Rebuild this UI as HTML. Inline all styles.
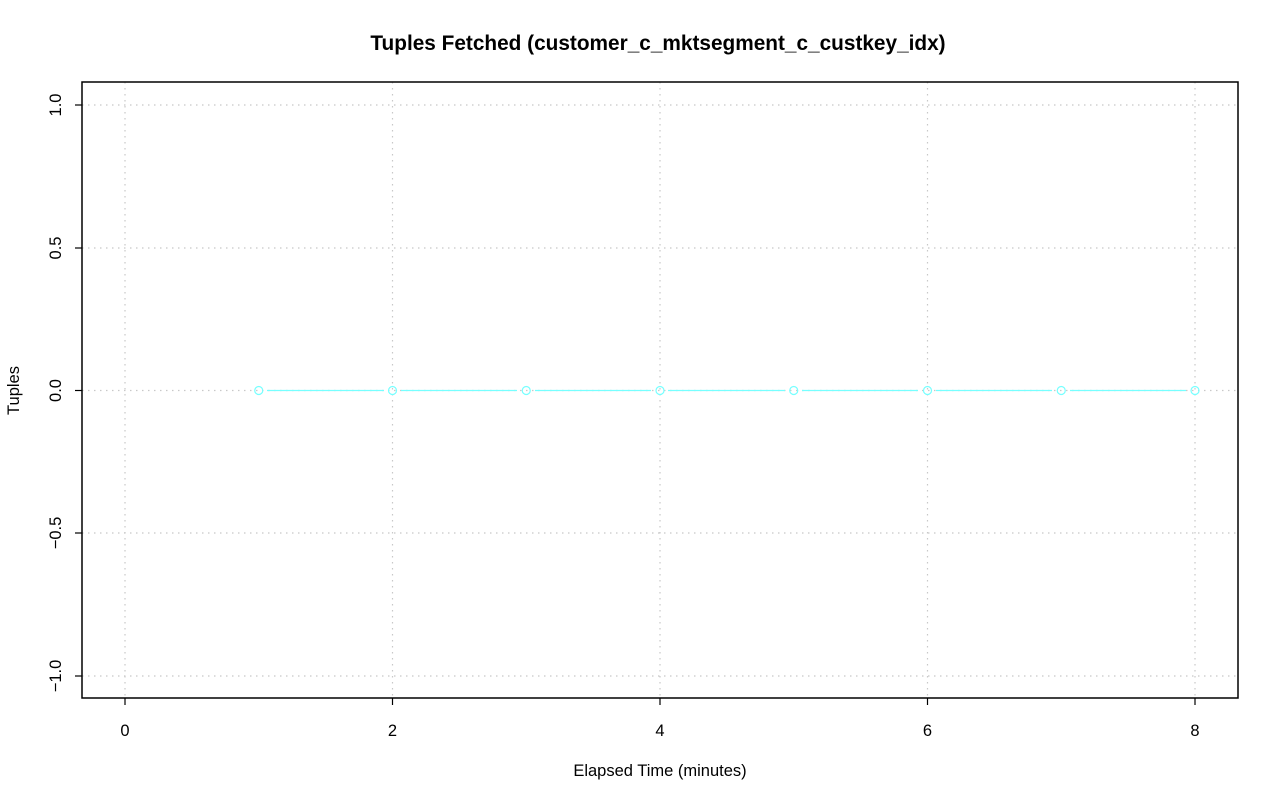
<!DOCTYPE html>
<html><head><style>body{margin:0;background:#fff}svg{display:block}</style></head><body>
<svg width="1280" height="801" xmlns="http://www.w3.org/2000/svg" font-family="Liberation Sans, sans-serif">
<rect width="1280" height="801" fill="#fff"/>
<text x="658" y="50" font-size="20.8" font-weight="bold" text-anchor="middle">Tuples Fetched (customer_c_mktsegment_c_custkey_idx)</text>
<g stroke="#c8c8c8" stroke-width="1.2" stroke-dasharray="1.5,4.5">
<line x1="125" y1="82" x2="125" y2="698"/><line x1="392.5" y1="82" x2="392.5" y2="698"/><line x1="660" y1="82" x2="660" y2="698"/><line x1="927.5" y1="82" x2="927.5" y2="698"/><line x1="1195" y1="82" x2="1195" y2="698"/>
<line x1="82" y1="105" x2="1238" y2="105"/><line x1="82" y1="248" x2="1238" y2="248"/><line x1="82" y1="390.5" x2="1238" y2="390.5"/><line x1="82" y1="533" x2="1238" y2="533"/><line x1="82" y1="676" x2="1238" y2="676"/>
</g>
<g stroke="#7ff" stroke-width="1.2" fill="none">
<path d="M267 390.5H384M401 390.5H517M535 390.5H651M668 390.5H785M802 390.5H918M936 390.5H1052M1070 390.5H1186"/>
<circle cx="258.75" cy="390.5" r="4"/><circle cx="392.5" cy="390.5" r="4"/><circle cx="526.25" cy="390.5" r="4"/><circle cx="660" cy="390.5" r="4"/><circle cx="793.75" cy="390.5" r="4"/><circle cx="927.5" cy="390.5" r="4"/><circle cx="1061.25" cy="390.5" r="4"/><circle cx="1195" cy="390.5" r="4"/>
</g>
<rect x="82" y="82" width="1156" height="616" fill="none" stroke="#000" stroke-width="1.5"/>
<g stroke="#000" stroke-width="1.2">
<line x1="125" y1="698" x2="125" y2="705"/><line x1="392.5" y1="698" x2="392.5" y2="705"/><line x1="660" y1="698" x2="660" y2="705"/><line x1="927.5" y1="698" x2="927.5" y2="705"/><line x1="1195" y1="698" x2="1195" y2="705"/>
<line x1="75" y1="105" x2="82" y2="105"/><line x1="75" y1="248" x2="82" y2="248"/><line x1="75" y1="390.5" x2="82" y2="390.5"/><line x1="75" y1="533" x2="82" y2="533"/><line x1="75" y1="676" x2="82" y2="676"/>
</g>
<g font-size="16.5" text-anchor="middle">
<text x="125" y="736">0</text><text x="392.5" y="736">2</text><text x="660" y="736">4</text><text x="927.5" y="736">6</text><text x="1195" y="736">8</text>
<text transform="translate(61,105) rotate(-90)">1.0</text><text transform="translate(61,248) rotate(-90)">0.5</text><text transform="translate(61,390.5) rotate(-90)">0.0</text><text transform="translate(61,533) rotate(-90)">−0.5</text><text transform="translate(61,676) rotate(-90)">−1.0</text>
<text x="660" y="776">Elapsed Time (minutes)</text>
<text transform="translate(19,390.5) rotate(-90)">Tuples</text>
</g>
</svg>
</body></html>
